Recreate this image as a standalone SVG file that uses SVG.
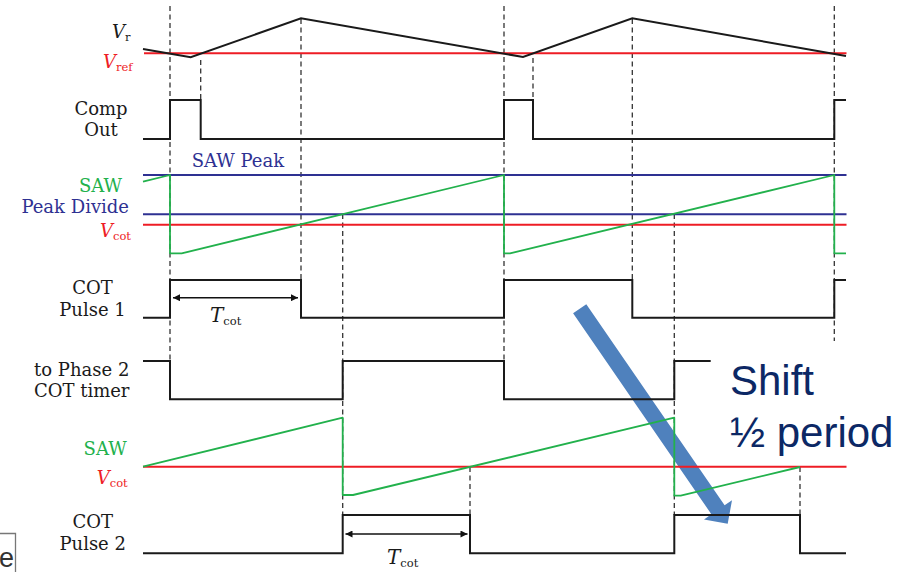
<svg xmlns="http://www.w3.org/2000/svg" width="908" height="572" viewBox="0 0 908 572">
<defs>
<style>
.sig{fill:none;stroke:#1a1a1a;stroke-width:2;stroke-linejoin:miter}
.red{fill:none;stroke:#ee1c25;stroke-width:2}
.blu{fill:none;stroke:#2e3192;stroke-width:2}
.grn{fill:none;stroke:#22b14c;stroke-width:1.8;stroke-linejoin:round}
.dash{fill:none;stroke:#333;stroke-width:1.3;stroke-dasharray:5 3.5}
.lab{font-family:"DejaVu Serif",serif;font-size:18px;fill:#1a1a1a;stroke:currentColor;stroke-width:0}
.it{font-style:italic}
.sub{font-size:11.5px}
.dim{stroke:#111;stroke-width:1.5;marker-start:url(#ah);marker-end:url(#ah)}
.note{font-family:"Liberation Sans",Arial,sans-serif;font-size:42px;fill:#0c2865}
</style>
<marker id="ah" viewBox="0 0 10 10" refX="10" refY="5" markerWidth="9" markerHeight="7" markerUnits="userSpaceOnUse" orient="auto-start-reverse">
<path d="M0,0 L10,5 L0,10 z" fill="#111"/>
</marker>
</defs>
<rect width="908" height="572" fill="#fff"/>

<g id="connectors">
<line class="dash" x1="170" y1="6" x2="170" y2="361"/>
<line class="dash" x1="200.7" y1="60" x2="200.7" y2="100"/>
<line class="dash" x1="301" y1="19" x2="301" y2="280"/>
<line class="dash" x1="504" y1="6" x2="504" y2="361"/>
<line class="dash" x1="533" y1="58" x2="533" y2="100"/>
<line class="dash" x1="632.3" y1="19" x2="632.3" y2="280"/>
<line class="dash" x1="834.3" y1="6" x2="834.3" y2="341"/>
<line class="dash" x1="342.7" y1="214" x2="342.7" y2="515"/>
<line class="dash" x1="674.3" y1="214" x2="674.3" y2="515"/>
<line class="dash" x1="470" y1="467" x2="470" y2="515"/>
<line class="dash" x1="800" y1="467" x2="800" y2="515"/>
<line class="dim" x1="173" y1="297.7" x2="298" y2="297.7"/>
<line class="dim" x1="345.5" y1="534" x2="467.5" y2="534"/>
</g>

<g id="shift-arrow">
<polygon points="586.3,304.2 724.6,505.3 732,500.2 727.7,523.8 704,519.4 711.4,514.3 573.1,313.2" fill="#4f81bd"/>
</g>

<g id="vr">
<text class="lab" x="112" y="38"><tspan class="it">V</tspan><tspan class="sub" dy="3">r</tspan></text>
<text class="lab" x="103" y="68.3" style="fill:#ee1c25"><tspan class="it">V</tspan><tspan class="sub" dy="3">ref</tspan></text>
<line class="red" x1="144" y1="53.3" x2="846.5" y2="53.3"/>
<polyline class="sig" points="143,49 190.7,57.3 301,18.3 523,57 632.3,18.3 846,56"/>
</g>

<g id="comp-out">
<text class="lab" x="101" y="115" text-anchor="middle">Comp</text>
<text class="lab" x="101" y="136" text-anchor="middle">Out</text>
<path class="sig" d="M143,139 H170 V100 H200.7 V139 H504 V100 H533 V139 H834.3 V100 H846"/>
</g>

<g id="saw1">
<text class="lab" x="191.7" y="166.7" style="fill:#2e3192">SAW Peak</text>
<text class="lab" x="122" y="191.7" text-anchor="end" style="fill:#22b14c">SAW</text>
<text class="lab" x="129" y="213.3" text-anchor="end" style="fill:#2e3192">Peak Divide</text>
<text class="lab" x="100" y="237.3" style="fill:#ee1c25"><tspan class="it">V</tspan><tspan class="sub" dy="3">cot</tspan></text>
<line class="blu" x1="143" y1="175" x2="846.5" y2="175"/>
<line class="blu" x1="143" y1="214.3" x2="846.5" y2="214.3"/>
<line class="red" x1="143" y1="224.7" x2="846.5" y2="224.7"/>
<polyline class="grn" points="143,181.7 170,175 170,253.3 181.7,253.3 504,175 504,253.3 510,253.3 834.3,175 834.3,253.3 846,253.3"/>
</g>

<g id="cot-pulse-1">
<text class="lab" x="92.5" y="294.3" text-anchor="middle">COT</text>
<text class="lab" x="92.5" y="315.7" text-anchor="middle">Pulse 1</text>
<path class="sig" d="M143,317.7 H170 V280 H301 V317.7 H504 V280 H632.3 V317.7 H834.3 V280 H846"/>
<text class="lab" x="210" y="321.7" style="font-size:20px"><tspan class="it">T</tspan><tspan class="sub" dy="3">cot</tspan></text>
</g>

<g id="phase2-timer">
<text class="lab" x="81.7" y="375.7" text-anchor="middle">to Phase 2</text>
<text class="lab" x="81.7" y="396.7" text-anchor="middle">COT timer</text>
<path class="sig" d="M143,361 H170 V399.3 H342.7 V361 H504 V399.3 H674.3 V361 H710.7"/>
</g>

<g id="saw2">
<text class="lab" x="126.7" y="455" text-anchor="end" style="fill:#22b14c">SAW</text>
<text class="lab" x="96.7" y="484.3" style="fill:#ee1c25"><tspan class="it">V</tspan><tspan class="sub" dy="3">cot</tspan></text>
<line class="red" x1="143" y1="466.7" x2="846.5" y2="466.7"/>
<polyline class="grn" points="143,466.7 342.7,417.7 342.7,495 353,495 674.3,417.7 674.3,495.7 680.7,495.7 800,467"/>
</g>

<g id="cot-pulse-2">
<text class="lab" x="92.7" y="528.3" text-anchor="middle">COT</text>
<text class="lab" x="92.7" y="550" text-anchor="middle">Pulse 2</text>
<path class="sig" d="M143,553.3 H342.7 V515 H470 V553.3 H674.3 V515 H800 V553.3 H846"/>
<text class="lab" x="387" y="564" style="font-size:20px"><tspan class="it">T</tspan><tspan class="sub" dy="3">cot</tspan></text>
</g>

<g id="shift-note">
<text class="note" x="730" y="395">Shift</text>
<text class="note" x="730" y="446.7">½ period</text>
</g>

<g id="corner-box">
<path d="M0,533.5 H15.5 V572" fill="none" stroke="#777" stroke-width="1.3"/>
<text x="14" y="567" text-anchor="end" style="font-family:'Liberation Sans',Arial,sans-serif;font-size:27px;fill:#333">e</text>
</g>
</svg>
